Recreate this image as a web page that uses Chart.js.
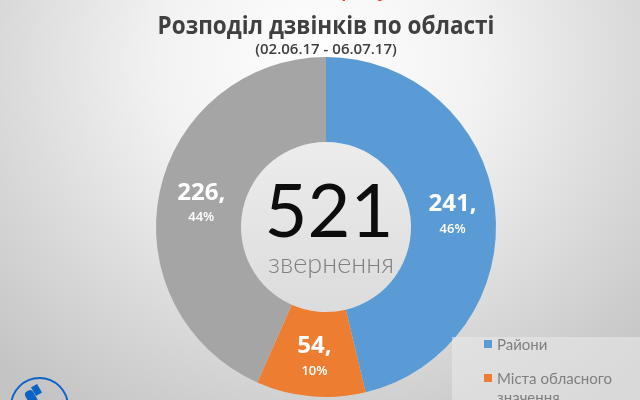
<!DOCTYPE html>
<html>
<head>
<meta charset="utf-8">
<script src="https://cdn.jsdelivr.net/npm/chart.js@4"></script>
<style>
  html, body { margin: 0; padding: 0; }
  #wrap {
    position: relative; width: 640px; height: 400px; overflow: hidden;
    background: radial-gradient(ellipse 460px 420px at 320px 60px, #ffffff 0%, #f2f2f2 35%, #d9d9d9 70%, #c4c4c4 100%);
    font-family: "Open Sans", sans-serif;
  }
  canvas { position: absolute; left: 0; top: 0; }
  #hole {
    position: absolute; left: 241px; top: 142px; width: 170px; height: 170px; border-radius: 50%;
    background: linear-gradient(#ececec, #dcdcdc);
  }
  #topline {
    position: absolute; left: 6px; width: 640px; top: -25px; text-align: center; line-height: 27px;
    color: #f03030; font-size: 20px; font-weight: 600; white-space: nowrap;
  }
  #legend {
    position: absolute; left: 452px; top: 337px; width: 188px; height: 70px;
    background: rgba(232, 232, 232, 0.6);
    color: #7f7f7f; font-family: Lato, sans-serif; font-size: 15px; line-height: 19px;
  }
  #legend div { position: absolute; left: 32px; width: 135px; padding-left: 13px; }
  #legend i { position: absolute; left: 0; top: 5px; width: 8px; height: 8px; }
  #logo {
    position: absolute; left: 10px; top: 377px; width: 55px; height: 55px;
    border: 2.5px solid #0b63c5; border-radius: 50%;
  }
  #logo span { position: absolute; background: #0b63c5; transform: rotate(-30deg); }
</style>
</head>
<body>
<div id="wrap">
  <div id="hole"></div>
  <canvas id="pie" width="640" height="400"></canvas>
  <div id="topline">Дзвінки на гарячу лінію</div>
  <div id="legend"></div>
  <div id="logo">
    <span style="left:21px;top:6px;width:7px;height:10px"></span>
    <span style="left:15px;top:11px;width:9px;height:16px;border-radius:4px"></span>
  </div>
</div>
<script>
const categories = ["Райони", "Міста обласного значення", "ОТГ"];
const values = [241, 54, 226];
const percents = ["46%", "10%", "44%"];
const colors = ["#5b9bd5", "#ed7d31", "#a5a5a5"];
const total = "521";
const totalLabel = "звернення";

// labels + center number drawn on top of the slices
const labelPlugin = {
  id: "labels",
  afterDatasetsDraw(chart) {
    const ctx = chart.ctx;
    const arcs = chart.getDatasetMeta(0).data;
    ctx.save();
    ctx.textAlign = "center";
    ctx.textBaseline = "middle";
    ctx.fillStyle = "#ffffff";
    arcs.forEach(function(arc, i) {
      const p = arc.tooltipPosition();
      ctx.font = "700 24px 'Open Sans'";
      ctx.fillText(values[i] + ",", p.x, p.y - 8);
      ctx.font = "600 13px 'Open Sans'";
      ctx.fillText(percents[i], p.x, p.y + 17);
    });
    const c = arcs[0];
    ctx.fillStyle = "#0d0d0d";
    ctx.font = "400 74px Lato";
    ctx.fillText(total, c.x + 3, c.y - 14);
    ctx.fillStyle = "#7f7f7f";
    ctx.font = "300 27px Lato";
    ctx.fillText(totalLabel, c.x + 5, c.y + 37);
    ctx.restore();
  }
};

new Chart(document.getElementById("pie"), {
  type: "doughnut",
  data: {
    labels: categories,
    datasets: [{ data: values, backgroundColor: colors, borderWidth: 0 }]
  },
  options: {
    responsive: false,
    animation: false,
    cutout: "50%",
    layout: { padding: { top: 57, bottom: 3, left: 12, right: 0 } },
    plugins: {
      legend: { display: false },
      tooltip: { enabled: false }
    }
  },
  plugins: [labelPlugin, {
    id: "heading",
    afterDraw(chart) {
      const ctx = chart.ctx;
      ctx.save();
      ctx.textAlign = "center";
      ctx.textBaseline = "middle";
      ctx.fillStyle = "#404040";
      ctx.font = "600 15px 'Open Sans'";
      ctx.fillText("(02.06.17 - 06.07.17)", 326, 50);
      // original title is a bit condensed
      ctx.translate(326, 27);
      ctx.scale(0.9, 1);
      ctx.font = "700 25px 'Open Sans'";
      ctx.fillText("Розподіл дзвінків по області", 0, 0);
      ctx.restore();
    }
  }]
});

// legend list, same order as the slices
const legend = document.getElementById("legend");
const tops = [-2, 32, 90];
categories.forEach(function(name, i) {
  const row = document.createElement("div");
  row.style.top = tops[i] + "px";
  row.innerHTML = '<i style="background:' + colors[i] + '"></i>' + name;
  legend.appendChild(row);
});
</script>
</body>
</html>
